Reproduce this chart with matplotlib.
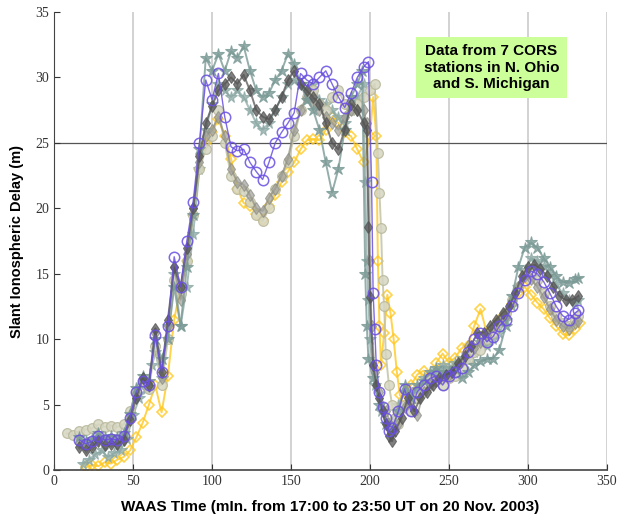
import numpy as np
import matplotlib
matplotlib.use("Agg")
import matplotlib.pyplot as plt

# Slant delay per station (x = WAAS time in min, y = m).
blue_x = [16, 20, 24, 28, 32, 36, 40, 44, 48, 52, 56, 60, 64, 68, 72, 76, 80, 84, 88, 92, 96, 100,
          104, 108, 112, 116, 120, 124, 128, 132, 136, 140, 144, 148, 152, 156, 160, 164, 168, 172,
          176, 180, 184, 188, 192, 196, 199, 201, 202, 203, 204, 206, 208, 210, 212, 214, 218, 222,
          226, 230, 234, 238, 242, 246, 250, 254, 258, 262, 266, 270, 274, 278, 282, 286, 290, 294,
          298, 302, 306, 310, 314, 318, 322, 326, 330, 332]
blue_y = [2.3, 2.0, 2.2, 2.6, 2.3, 2.4, 2.3, 2.6, 4.0, 6.0, 6.8, 6.5, 10.3, 7.5, 11.0, 16.3, 14.0, 17.5,
          20.5, 25.0, 29.8, 28.3, 30.3, 27.0, 24.7, 24.4, 24.5, 23.5, 22.8, 22.2, 23.5, 25.0, 25.8, 26.5,
          27.3, 30.3, 29.8, 29.5, 30.0, 30.5, 29.5, 28.5, 27.7, 28.8, 30.0, 30.8, 31.2, 22.0, 13.5, 10.8,
          8.0, 6.0, 4.8, 4.0, 3.0, 3.2, 4.5, 6.2, 4.5, 6.0, 6.5, 7.0, 7.2, 6.5, 7.2, 7.5, 7.8, 9.0, 10.0,
          10.5, 9.8, 10.2, 11.0, 11.5, 12.5, 13.5, 14.5, 15.2, 15.0, 14.4, 13.5, 12.5, 11.8, 11.5, 12.0,
          12.2]

yellow_x = [20, 24, 28, 32, 36, 40, 44, 48, 52, 56, 60, 64, 68, 72, 76, 80, 84, 88, 92, 96, 100, 104,
            108, 112, 116, 120, 124, 128, 132, 136, 140, 144, 148, 152, 156, 160, 164, 168, 172, 176,
            180, 184, 188, 192, 196, 200, 202, 204, 205, 206, 207, 209, 211, 213, 215, 217, 219, 222,
            226, 230, 234, 238, 242, 246, 250, 254, 258, 262, 266, 270, 274, 278, 282, 286, 290, 294,
            298, 302, 306, 310, 314, 318, 322, 326, 330, 333]
yellow_y = [0.2, 0.4, 0.3, 0.6, 0.5, 0.8, 1.0, 1.5, 2.5, 3.6, 5.0, 6.5, 4.4, 7.2, 11.5, 14.0, 16.0, 19.5,
            23.0, 25.0, 25.8, 26.8, 25.5, 23.8, 21.5, 20.4, 20.2, 19.6, 19.1, 20.2, 21.0, 22.0, 22.8, 23.5,
            24.5, 25.2, 25.3, 25.2, 26.0, 27.0, 26.5, 25.8, 25.5, 24.5, 23.5, 25.5, 28.5, 25.5, 16.0, 11.0,
            8.0, 10.5, 13.4, 12.0, 10.0, 7.5, 5.7, 5.5, 6.5, 7.3, 7.6, 6.8, 8.2, 8.9, 8.2, 8.6, 9.3, 9.5,
            11.0, 12.3, 10.5, 10.8, 11.5, 12.0, 12.7, 13.5, 14.0, 13.4, 12.8, 12.3, 11.6, 11.0, 10.4, 10.3,
            10.8, 11.2]

dark_x = [16, 20, 24, 28, 32, 36, 40, 44, 48, 52, 56, 60, 64, 68, 72, 76, 80, 84, 88, 92, 96, 100, 104,
          108, 112, 116, 120, 124, 128, 132, 136, 140, 144, 148, 152, 156, 160, 164, 168, 172, 176, 180,
          184, 188, 192, 196, 198, 199, 200, 202, 204, 206, 208, 210, 212, 214, 216, 220, 224, 228, 232,
          236, 240, 244, 248, 252, 256, 260, 264, 268, 272, 276, 280, 284, 288, 292, 296, 300, 304, 308,
          312, 316, 320, 324, 328, 332]
dark_y = [1.8, 1.5, 1.8, 2.2, 1.9, 2.0, 2.0, 2.3, 3.8, 5.5, 7.0, 6.5, 10.8, 7.5, 11.5, 15.5, 14.0, 17.0,
          20.0, 24.0, 26.5, 27.8, 29.0, 29.5, 30.0, 29.5, 30.2, 29.0, 27.5, 27.0, 26.8, 27.5, 28.5, 29.8,
          30.5, 29.5, 29.0, 28.5, 28.0, 26.5, 25.0, 24.5, 26.0, 28.0, 27.5, 26.5, 26.0, 18.6, 13.2, 8.0,
          6.5, 5.5, 4.5, 3.5, 2.6, 2.2, 3.0, 4.0, 5.5, 4.5, 5.5, 6.0, 6.5, 7.0, 7.3, 7.5, 8.2, 8.7, 9.5,
          10.5, 10.5, 11.0, 11.5, 12.0, 12.5, 13.5, 14.8, 15.5, 15.7, 15.4, 14.8, 14.0, 13.3, 13.0, 13.0,
          13.3]

teal_x = [16, 20, 24, 28, 32, 36, 40, 44, 48, 52, 56, 60, 64, 68, 72, 76, 80, 84, 88, 92, 96, 100, 104,
          108, 112, 116, 120, 124, 128, 132, 136, 140, 144, 148, 152, 156, 160, 164, 168, 172, 176, 180,
          184, 188, 192, 195, 197, 198, 199, 202, 206, 210, 214, 218, 222, 226, 230, 234, 238, 242, 246,
          250, 254, 258, 262, 266, 270, 274, 278, 282, 286, 290, 294, 298, 302, 306, 310, 314, 318, 322,
          326, 330, 332]
teal_y = [2.5, 2.2, 2.4, 2.8, 2.5, 2.6, 2.5, 2.8, 4.3, 6.3, 7.2, 6.8, 10.0, 8.5, 10.0, 14.0, 11.0, 15.5,
          19.5, 24.5, 31.5, 30.5, 31.8, 30.5, 32.0, 31.5, 32.4, 30.5, 29.0, 28.5, 28.8, 29.8, 30.5, 31.8,
          31.0, 29.5, 28.3, 27.5, 26.0, 23.5, 21.2, 23.0, 26.0, 28.5, 29.5, 30.5, 15.0, 11.0, 8.5, 7.0,
          5.0, 3.5, 3.0, 4.5, 6.5, 5.5, 6.5, 6.8, 7.5, 7.8, 7.5, 7.5, 7.8, 7.0, 7.5, 8.0, 8.3, 8.5, 8.5,
          9.2, 11.0, 13.3, 15.5, 17.0, 17.4, 17.0, 16.2, 15.5, 14.8, 14.4, 14.3, 14.6, 14.7]

khaki_x = [8, 12, 16, 20, 24, 28, 32, 36, 40, 44, 48, 52, 56, 60, 64, 68, 72, 76, 80, 84, 88, 92, 96, 100,
           104, 108, 112, 116, 120, 124, 128, 132, 136, 140, 144, 148, 152, 156, 160, 164, 168, 172, 176,
           180, 184, 188, 192, 196, 200, 203, 205, 206, 207, 208, 209, 210, 212, 214, 216, 218, 222, 226,
           230, 234, 238, 242, 246, 250, 254, 258, 262, 266, 270, 274, 278, 282, 286, 290, 294, 298, 302,
           306, 310, 314, 318, 322, 326, 330, 332]
khaki_y = [2.8, 2.7, 3.0, 3.1, 3.2, 3.5, 3.3, 3.4, 3.3, 3.5, 4.5, 6.0, 6.8, 6.2, 9.5, 6.5, 10.0, 14.5,
           13.5, 16.0, 19.5, 23.0, 24.5, 25.5, 27.5, 25.0, 22.5, 21.5, 21.3, 20.5, 19.5, 19.0, 20.0, 21.5,
           22.5, 23.5, 25.5, 27.5, 28.5, 29.0, 28.0, 27.5, 28.5, 29.0, 28.0, 27.5, 28.0, 28.5, 29.0, 29.5,
           24.2, 21.2, 18.5, 14.5, 12.5, 8.9, 6.5, 5.0, 4.0, 3.5, 5.0, 4.5, 5.5, 6.5, 7.0, 6.8, 6.5, 7.0,
           7.2, 7.8, 8.5, 9.0, 9.2, 10.0, 10.5, 11.3, 12.0, 13.0, 14.0, 15.0, 15.0, 14.5, 13.5, 12.5, 11.8,
           11.2, 11.0, 11.5, 11.8]

gray_x = [16, 20, 24, 28, 32, 36, 40, 44, 48, 52, 56, 60, 64, 68, 72, 76, 80, 84, 88, 92, 96, 100, 104,
          108, 112, 116, 120, 124, 128, 132, 136, 140, 144, 148, 152, 156, 160, 164, 168, 172, 176, 180,
          184, 188, 192, 196, 198, 200, 201, 203, 206, 210, 214, 218, 222, 226, 230, 234, 238, 242, 246,
          250, 254, 258, 262, 266, 270, 274, 278, 282, 286, 290, 294, 298, 302, 306, 310, 314, 318, 322,
          326, 330, 332]
gray_y = [2.1, 1.8, 2.0, 2.4, 2.1, 2.2, 2.1, 2.4, 4.2, 5.8, 7.0, 6.4, 10.5, 7.0, 11.0, 15.5, 13.0, 16.5,
          20.0, 23.5, 25.5, 26.0, 27.0, 25.5, 23.0, 22.0, 21.8, 21.0, 20.0, 19.8, 20.8, 21.5, 22.5, 23.8,
          26.0, 27.5, 28.5, 28.0, 27.5, 27.0, 26.5, 26.0, 27.0, 27.5, 27.5, 27.5, 26.5, 16.0, 11.0, 7.5,
          6.0, 4.5, 3.3, 3.5, 4.8, 5.2, 4.2, 6.0, 6.5, 6.8, 7.2, 7.3, 7.8, 8.3, 9.5, 9.3, 9.8, 10.3, 11.0,
          11.5, 11.8, 13.0, 14.0, 14.8, 14.6, 14.0, 13.2, 12.3, 11.5, 11.0, 10.8, 11.2, 11.4]

teal2_x = [18, 22, 26, 30, 34, 38, 42, 46, 50, 54, 58, 62, 64, 68, 72, 76, 80, 84, 88, 92, 96, 100, 104,
           108, 112, 116, 120, 124, 128, 132, 136, 140, 144, 148, 152, 156, 160, 164, 168, 172, 176, 180,
           184, 188, 192, 196, 197, 198, 199, 200, 203, 207, 211, 214, 218, 222, 226, 230, 234, 238, 242,
           246, 250, 254, 258, 262, 266, 270, 274, 278, 282, 286, 290, 294, 298, 302, 306, 310, 314, 318,
           322, 326, 330, 332]
teal2_y = [0.5, 0.8, 1.2, 1.5, 1.0, 1.3, 1.5, 2.4, 4.2, 5.5, 6.2, 8.0, 9.0, 7.0, 11.0, 15.0, 11.0, 14.0,
           18.0, 23.0, 26.0, 28.0, 29.5, 29.0, 28.5, 29.0, 28.5, 27.5, 26.5, 26.0, 26.5, 27.5, 28.5, 29.5,
           29.8, 29.5, 29.0, 29.5, 28.3, 28.0, 27.5, 27.0, 26.5, 27.5, 28.5, 29.5, 22.0, 16.0, 13.0, 10.0,
           6.5, 4.5, 3.5, 3.8, 5.0, 6.0, 5.8, 6.2, 7.0, 6.5, 7.5, 8.0, 7.8, 8.2, 8.6, 8.5, 9.0, 9.8, 9.5,
           10.0, 10.5, 11.5, 12.5, 14.0, 15.3, 16.2, 16.0, 15.6, 15.0, 14.2, 13.5, 13.0, 12.8, 13.0]

fig = plt.figure(figsize=(6.23, 5.2), dpi=100)
ax = fig.add_axes([0.087, 0.096, 0.887, 0.881])

for gx in range(50, 351, 50):
    ax.axvline(gx, color="#cfcfcf", lw=1.3, zorder=0)
ax.axhline(25, color="#555555", lw=0.9, zorder=1)

ax.plot(yellow_x, yellow_y, color="#ffc81e", lw=1.4, marker="D", ms=5.5, mfc="none", mew=1.2,
        alpha=0.8, zorder=2)
ax.plot(teal2_x, teal2_y, color="#8aa7a3", lw=1.4, marker="*", ms=8.5, mew=0.8, alpha=0.75, zorder=2)
ax.plot(khaki_x, khaki_y, color="#c3c3a6", lw=1.4, marker="o", ms=7, mfc="#d6d6c2", mec="#b8b89c",
        mew=0.9, alpha=0.85, zorder=3)
ax.plot(gray_x, gray_y, color="#8c8c84", lw=1.4, marker="d", ms=6, mfc="#a0a098", mew=0.8,
        alpha=0.7, zorder=3)
ax.plot(teal_x, teal_y, color="#7b9a96", lw=1.4, marker="*", ms=9, mew=0.8, alpha=0.8, zorder=4)
ax.plot(dark_x, dark_y, color="#555555", lw=1.4, marker="d", ms=6, mew=0.8, alpha=0.75, zorder=4)
ax.plot(blue_x, blue_y, color="#6a4fe0", lw=1.0, marker="o", ms=7.5, mfc="none", mew=1.1,
        alpha=0.85, zorder=5)

ax.set_xlim(0, 350)
ax.set_ylim(0, 35)
ax.set_xticks(range(0, 351, 50))
ax.set_yticks(range(0, 36, 5))
ax.tick_params(direction="in", length=4, width=0.8, colors="#333333", labelsize=10)
for lab in ax.get_xticklabels() + ax.get_yticklabels():
    lab.set_fontfamily("Liberation Serif")
ax.spines["top"].set_visible(False)
ax.spines["right"].set_visible(False)
ax.spines["left"].set_color("#444444")
ax.spines["bottom"].set_color("#444444")
ax.spines["bottom"].set_linewidth(1.2)

ax.set_xlabel("WAAS TIme (mIn. from 17:00 to 23:50 UT on 20 Nov. 2003)", fontsize=11,
              fontweight="bold", family="Liberation Sans", labelpad=9)
ax.set_ylabel("Slant Ionospheric Delay (m)", fontsize=10.5, fontweight="bold",
              family="Liberation Sans", labelpad=8)

ax.text(277, 30.75, "Data from 7 CORS\nstations in N. Ohio\nand S. Michigan", ha="center", va="center",
        fontsize=11, fontweight="bold", family="Liberation Sans", linespacing=1.2, zorder=6,
        bbox=dict(boxstyle="square,pad=0.5", fc="#ccff99", ec="none"))

fig.savefig("out.png", dpi=100)
